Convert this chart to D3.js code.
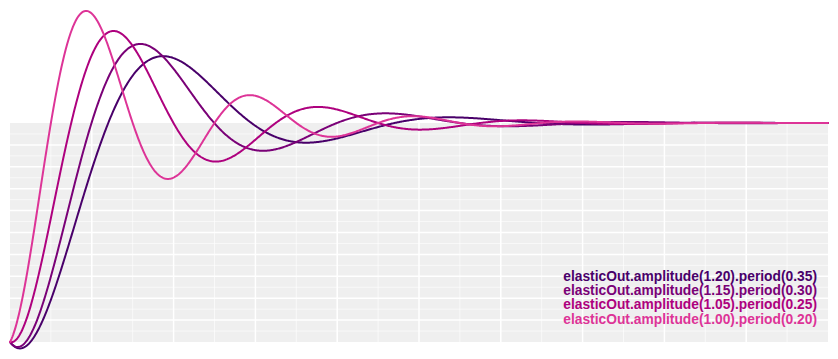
<!DOCTYPE html>
<html>
<head>
<meta charset="utf-8">
<script src="https://cdn.jsdelivr.net/npm/d3@7"></script>
<style>
html, body { margin: 0; padding: 0; background: #fff; }
svg { display: block; }
</style>
</head>
<body>
<svg id="chart" width="838" height="359"></svg>
<script>
// Data: parameters of each elasticOut easing curve, in legend order (top to bottom)
const amplitudes = [1.20, 1.15, 1.05, 1.00];
const periods = [0.35, 0.30, 0.25, 0.20];
const colors = ["#49006a", "#7a0177", "#ae017e", "#dd3497"];
const labels = amplitudes.map((a, i) =>
  `elasticOut.amplitude(${a.toFixed(2)}).period(${periods[i].toFixed(2)})`);

const svg = d3.select("#chart");
const x = d3.scaleLinear().domain([0, 1]).range([10, 828]);
const y = d3.scaleLinear().domain([0, 1]).range([342, 123]);

// grey plot area
svg.append("rect")
  .attr("x", x(0)).attr("y", y(1))
  .attr("width", x(1) - x(0)).attr("height", y(0) - y(1))
  .attr("fill", "#efefef");

// grid
const minor = d3.range(1, 20).map(i => i / 20);
const g = svg.append("g");
g.selectAll(".vx").data(minor).join("line")
  .attr("x1", d => x(d)).attr("x2", d => x(d))
  .attr("y1", y(0)).attr("y2", y(1))
  .attr("stroke", "#fff")
  .attr("stroke-width", (d, i) => (i % 2 === 1 ? 1.5 : 1))
  .attr("stroke-opacity", (d, i) => (i % 2 === 1 ? 1 : 0.6));
g.selectAll(".hy").data(minor).join("line")
  .attr("y1", d => y(d)).attr("y2", d => y(d))
  .attr("x1", x(0)).attr("x2", x(1))
  .attr("stroke", "#fff")
  .attr("stroke-width", (d, i) => (i % 2 === 1 ? 1.5 : 1))
  .attr("stroke-opacity", (d, i) => (i % 2 === 1 ? 1 : 0.6));

// curves
const ts = d3.range(0, 1001).map(i => i / 1000);
const line = d3.line().x(d => x(d[0])).y(d => y(d[1]));
[0, 1, 2, 3].forEach(i => {
  const ease = d3.easeElasticOut.amplitude(amplitudes[i]).period(periods[i]);
  svg.append("path")
    .datum(ts.map(t => [t, ease(t)]))
    .attr("fill", "none")
    .attr("stroke", colors[i])
    .attr("stroke-width", 2)
    .attr("stroke-linejoin", "round")
    .attr("stroke-linecap", "round")
    .attr("d", line);
});

// legend
svg.append("g").selectAll("text").data(labels).join("text")
  .attr("x", 817)
  .attr("y", (d, i) => 280.5 + i * 14.45)
  .attr("text-anchor", "end")
  .attr("fill", (d, i) => colors[i])
  .style("font-family", "'Liberation Sans', Arial, Helvetica, sans-serif")
  .style("font-weight", "bold")
  .style("font-size", "13.8px")
  .text(d => d);
</script>
</body>
</html>
